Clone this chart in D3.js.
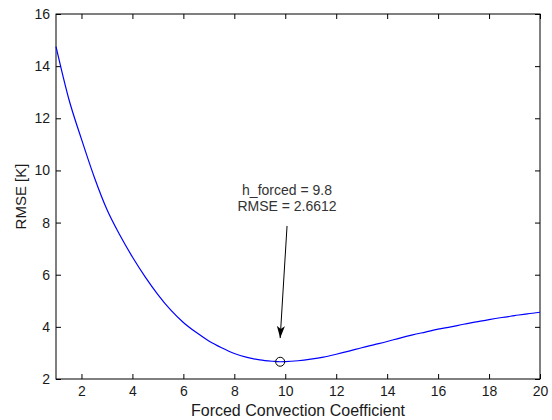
<!DOCTYPE html>
<html>
<head>
<meta charset="utf-8">
<script src="https://cdn.jsdelivr.net/npm/d3@7"></script>
<style>
  html, body { margin: 0; padding: 0; background: #fff; }
  svg { display: block; font-family: "Liberation Sans", Arial, sans-serif; }
</style>
</head>
<body>
<svg id="chart" width="552" height="420"></svg>
<script>
// Forced convection coefficient sweep and the resulting RMSE [K]
const hForced = [1, 1.5, 2, 2.5, 3, 3.5, 4, 4.5, 5, 5.5, 6, 6.5, 7, 7.5, 8, 8.5, 9, 9.5, 9.8,
                 10, 10.5, 11, 11.5, 12, 12.5, 13, 13.5, 14, 14.5, 15, 15.5, 16, 16.5, 17, 17.5,
                 18, 18.5, 19, 19.5, 20];
const rmse = [14.75, 12.75, 11.2, 9.75, 8.5, 7.53, 6.68, 5.92, 5.24, 4.65, 4.17, 3.79, 3.46, 3.2,
              2.98, 2.83, 2.73, 2.68, 2.6612,
              2.665, 2.7, 2.76, 2.84, 2.95, 3.07, 3.2, 3.32, 3.44, 3.57, 3.69, 3.8, 3.91, 4.0,
              4.1, 4.19, 4.28, 4.36, 4.43, 4.5, 4.56];

const xTicks = [2, 4, 6, 8, 10, 12, 14, 16, 18, 20];
const yTicks = [2, 4, 6, 8, 10, 12, 14, 16];

// Optimum marker and its label
const bestH = 9.8;
const bestRmse = 2.6612;
const noteLines = ["h_forced = 9.8", "RMSE = 2.6612"];
const arrowFrom = [10.07, 7.87];
const arrowTo = [9.8, 3.57];

const W = 552, H = 420;
const margin = { left: 56, right: 12, top: 14, bottom: 41 };

const svg = d3.select("#chart");

const x = d3.scaleLinear().domain([1, 20]).range([margin.left, W - margin.right]);
const y = d3.scaleLinear().domain([2, 16]).range([H - margin.bottom, margin.top]);

const tickLen = 5;
const axisFont = 14;

// Box with inward ticks on all four sides
function styleAxis(g) {
  g.select(".domain").remove();
  g.selectAll(".tick line").attr("stroke", "#000").attr("stroke-width", 1);
}

svg.append("g")
  .attr("transform", `translate(0,${y.range()[0]})`)
  .call(d3.axisBottom(x).tickValues(xTicks).tickSizeInner(-tickLen).tickSizeOuter(0).tickPadding(7))
  .call(styleAxis)
  .call(g => g.selectAll(".tick text").attr("font-size", axisFont).attr("fill", "#1a1a1a")
    .attr("font-family", "Liberation Sans, Arial, sans-serif"));

svg.append("g")
  .attr("transform", `translate(0,${y.range()[1]})`)
  .call(d3.axisTop(x).tickValues(xTicks).tickSizeInner(-tickLen).tickSizeOuter(0).tickFormat(""))
  .call(styleAxis);

svg.append("g")
  .attr("transform", `translate(${x.range()[0]},0)`)
  .call(d3.axisLeft(y).tickValues(yTicks).tickSizeInner(-tickLen).tickSizeOuter(0).tickPadding(6))
  .call(styleAxis)
  .call(g => g.selectAll(".tick text").attr("font-size", axisFont).attr("fill", "#1a1a1a")
    .attr("font-family", "Liberation Sans, Arial, sans-serif"));

svg.append("g")
  .attr("transform", `translate(${x.range()[1]},0)`)
  .call(d3.axisRight(y).tickValues(yTicks).tickSizeInner(-tickLen).tickSizeOuter(0).tickFormat(""))
  .call(styleAxis);

// Frame
svg.append("rect")
  .attr("x", x.range()[0]).attr("y", y.range()[1])
  .attr("width", x.range()[1] - x.range()[0])
  .attr("height", y.range()[0] - y.range()[1])
  .attr("fill", "none").attr("stroke", "#000").attr("stroke-width", 1);

// RMSE curve
const line = d3.line()
  .x((d, i) => x(hForced[i]))
  .y(d => y(d))
  .curve(d3.curveMonotoneX);

svg.append("path")
  .datum(rmse)
  .attr("d", line)
  .attr("fill", "none")
  .attr("stroke", "#0000ff")
  .attr("stroke-width", 1.2);

// Minimum marker
svg.append("circle")
  .attr("cx", x(bestH)).attr("cy", y(bestRmse)).attr("r", 4.5)
  .attr("fill", "none").attr("stroke", "#000").attr("stroke-width", 1);

// Arrow pointing at the minimum
svg.append("defs").append("marker")
  .attr("id", "head")
  .attr("viewBox", "0 0 12 8")
  .attr("refX", 12).attr("refY", 4)
  .attr("markerWidth", 12).attr("markerHeight", 8)
  .attr("markerUnits", "userSpaceOnUse")
  .attr("orient", "auto")
  .append("path")
  .attr("d", "M0,0 L12,4 L0,8 L3,4 Z")
  .attr("fill", "#000");

svg.append("line")
  .attr("x1", x(arrowFrom[0])).attr("y1", y(arrowFrom[1]))
  .attr("x2", x(arrowTo[0])).attr("y2", y(arrowTo[1]))
  .attr("stroke", "#000").attr("stroke-width", 1)
  .attr("marker-end", "url(#head)");

const note = svg.append("text")
  .attr("text-anchor", "middle")
  .attr("font-size", 14)
  .attr("fill", "#333");
noteLines.forEach((t, i) => {
  note.append("tspan")
    .attr("x", x(arrowFrom[0]))
    .attr("y", y(arrowFrom[1]) - 31 + i * 16)
    .text(t);
});

// Axis titles
svg.append("text")
  .attr("x", (x.range()[0] + x.range()[1]) / 2)
  .attr("y", 416)
  .attr("text-anchor", "middle")
  .attr("font-size", 16)
  .attr("fill", "#1a1a1a")
  .text("Forced Convection Coefficient");

svg.append("text")
  .attr("transform", `translate(26,${(y.range()[0] + y.range()[1]) / 2}) rotate(-90)`)
  .attr("text-anchor", "middle")
  .attr("font-size", 15)
  .attr("fill", "#1a1a1a")
  .text("RMSE [K]");
</script>
</body>
</html>
